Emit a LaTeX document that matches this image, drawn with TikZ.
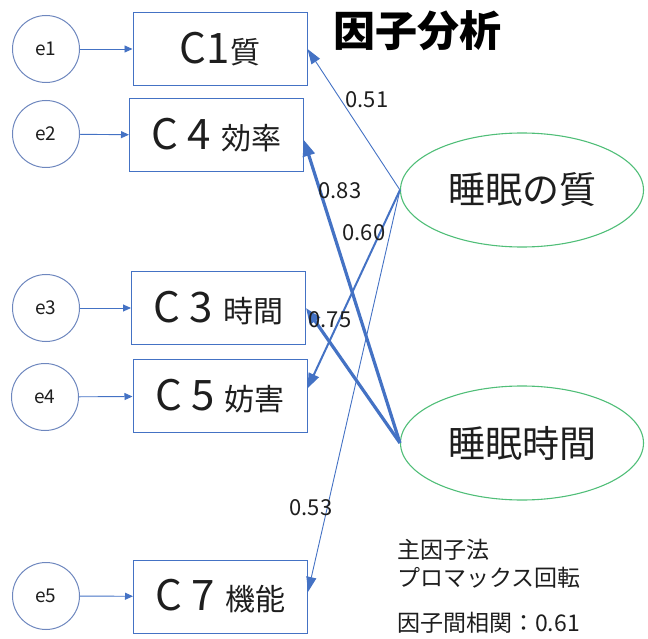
\documentclass[tikz,border=0pt]{standalone}
\usepackage{fontspec}
\setmainfont{Noto Sans CJK JP}
\usetikzlibrary{arrows.meta,shapes.geometric}
\definecolor{obl}{RGB}{68,114,196}
\definecolor{cgr}{RGB}{110,135,190}
\definecolor{egr}{RGB}{80,190,120}
\definecolor{txt}{RGB}{30,30,30}
\newcommand{\bigC}[1]{{\fontsize{42}{42}\selectfont #1}}
\newcommand{\kj}[1]{{\fontsize{30}{30}\selectfont #1}}
\begin{document}
\begin{tikzpicture}[x=1pt,y=-1pt,
  err/.style={circle,draw=cgr,line width=1pt,minimum size=67pt,inner sep=0pt,font=\fontsize{19}{19}\selectfont,text=txt},
  obs/.style={rectangle,draw=obl,line width=1pt,minimum width=174pt,minimum height=73pt,inner sep=0pt,text=txt},
  fac/.style={ellipse,draw=egr,line width=1.1pt,minimum width=243pt,minimum height=114pt,inner sep=0pt,font=\fontsize{37}{37}\selectfont,text=txt},
  earr/.style={draw=obl,line width=0.9pt,-{Triangle[length=8pt,width=7pt]}},
  thinarr/.style={draw=obl,line width=0.9pt,-{Triangle[length=15pt,width=10pt]}},
  midarr/.style={draw=obl,line width=2pt,-{Triangle[length=15pt,width=11pt]}},
  thickarr/.style={draw=obl,line width=3.2pt,-{Triangle[length=16pt,width=12pt]}},
  lab/.style={font=\fontsize{22}{22}\selectfont,text=txt,inner sep=0pt},
  note/.style={font=\fontsize{23}{23}\selectfont,text=txt,inner sep=0pt,anchor=west}
]
\useasboundingbox (0,0) rectangle (648,639);

% title
\node[font=\fontsize{42}{42}\selectfont\bfseries,inner sep=0pt] (title) at (417,31) {因子分析};

% error circles
\node[err] (e1) at (46,49) {e1};
\node[err] (e2) at (46,134) {e2};
\node[err] (e3) at (46,308) {e3};
\node[err] (e4) at (45,397) {e4};
\node[err] (e5) at (46,596) {e5};

% observed boxes
\node[obs] (C1) at (220,49) {\bigC{C1}\kj{質}};
\node[obs] (C4) at (216.5,135.5) {\bigC{C\hspace{9pt}4}\hspace{10pt}\kj{効率}};
\node[obs] (C3) at (218.5,308) {\bigC{C\hspace{9pt}3}\hspace{10pt}\kj{時間}};
\node[obs] (C5) at (220,396) {\bigC{C\hspace{9pt}5}\hspace{10pt}\kj{妨害}};
\node[obs] (C7) at (220.5,596.5) {\bigC{C\hspace{9pt}7}\hspace{10pt}\kj{機能}};

% factors
\node[fac] (Q) at (522,190) {睡眠の質};
\node[fac] (T) at (522,443) {睡眠時間};

% error arrows
\draw[earr] (e1) -- (C1);
\draw[earr] (e2) -- (C4);
\draw[earr] (e3) -- (C3);
\draw[earr] (e4) -- (C5);
\draw[earr] (e5) -- (C7);

% loadings
\draw[thinarr] (Q.west) -- (C1.east);
\draw[midarr] (Q.west) -- (C5.5);
\draw[thinarr] (Q.west) -- (C7.3);
\draw[thickarr] (T.west) -- (C4.-3);
\draw[thickarr] (T.west) -- (C3.east);

% loading labels
\node[lab] (l51) at (367,100) {0.51};
\node[lab] (l83) at (340,191) {0.83};
\node[lab] (l60) at (364,233) {0.60};
\node[lab] (l75) at (330,320) {0.75};
\node[lab] (l53) at (311,508) {0.53};

% notes
\node[note] (n1) at (397,550) {主因子法};
\node[note] (n2) at (397,578) {プロマックス回転};
\node[note] (n3) at (397,623) {因子間相関：0.61};
\end{tikzpicture}
\end{document}
